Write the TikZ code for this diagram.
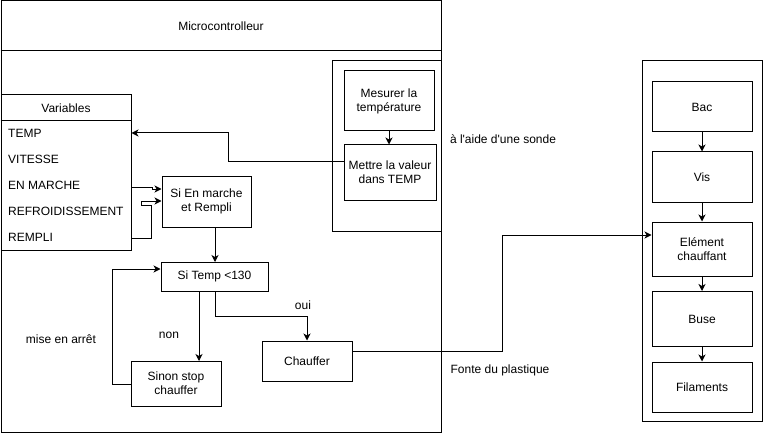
\documentclass[tikz,border=0pt]{standalone}
\usepackage{fontspec}
\setmainfont{Liberation Sans}[Ligatures=TeXOff]
\usetikzlibrary{arrows.meta}
\begin{document}
\begin{tikzpicture}[x=1pt,y=-1pt,
  every node/.style={font=\fontsize{12}{14}\selectfont, inner sep=0pt},
  box/.style={draw, line width=1pt, rectangle, align=center},
  lbl/.style={anchor=center},
  item/.style={anchor=west},
  ln/.style={line width=1pt},
  arr/.style={line width=1pt, -{Stealth[length=7pt,width=7pt,inset=2pt]}}]
\useasboundingbox (0,0) rectangle (763,433);
% microcontroller frame
\node[box, minimum width=440pt, minimum height=431pt] (mc) at (221,216.5) {};
\draw[ln] (mc.west |- 0,51) -- (mc.east |- 0,51);
\node[lbl] (mctitle) at (221,26) {Microcontrolleur};
% variables
\node[box, minimum width=130pt, minimum height=155pt] (var) at (66,172.5) {};
\draw[ln] (var.west |- 0,121) -- (var.east |- 0,121);
\node[lbl] (vartitle) at (66,108) {Variables};
\node[item] (temp) at (8,133) {TEMP};
\node[item] (vit) at (8,159) {VITESSE};
\node[item] (enm) at (8,185) {EN MARCHE};
\node[item] (refr) at (8,211) {REFROIDISSEMENT};
\node[item] (rempli) at (8,237) {REMPLI};
% sensor group
\node[box, minimum width=109pt, minimum height=170pt] (sens) at (386.5,146) {};
\node[box, minimum width=90pt, minimum height=60pt] (mes) at (389,101) {Mesurer la\\température};
\node[box, minimum width=92pt, minimum height=55pt] (met) at (390,172.5) {Mettre la valeur\\dans TEMP};
\node[lbl] (sonde) at (503,139) {à l'aide d'une sonde};
% logic
\node[box, minimum width=89pt, minimum height=51pt] (sim) at (206.5,201.5) {Si En marche\\et Rempli};
\node[box, minimum width=107pt, minimum height=29pt] (st) at (214.5,276.5) {Si Temp <130};
\node[box, minimum width=90pt, minimum height=45pt] (sinon) at (176,383.5) {Sinon stop\\chauffer};
\node[box, minimum width=90pt, minimum height=40pt] (chauf) at (307,361) {Chauffer};
\node[lbl] (non) at (169,335) {non};
\node[lbl] (oui) at (303,305) {oui};
\node[lbl] (arret) at (61,339) {mise en arrêt};
\node[lbl] (fonte) at (500,370) {Fonte du plastique};
% extruder group
\node[box, minimum width=120pt, minimum height=360pt] (ext) at (702,241) {};
\node[box, minimum width=100pt, minimum height=50pt] (bac) at (702,107) {Bac};
\node[box, minimum width=100pt, minimum height=50pt] (vis) at (702,177) {Vis};
\node[box, minimum width=100pt, minimum height=54pt] (elem) at (702,249) {Elément\\chauffant};
\node[box, minimum width=100pt, minimum height=55pt] (buse) at (702,319) {Buse};
\node[box, minimum width=100pt, minimum height=50pt] (fil) at (702,387) {Filaments};
% connectors
\draw[arr] (mes.south) -- (mes.south |- met.north);
\draw[arr] (met.west |- 0,162) -- (228,162) |- (var.east |- 0,133);
\draw[arr] (var.east |- 0,187) -- (152,187) -- (152,189) -- (sim.west |- 0,189);
\draw[arr] (var.east |- 0,238) -- (151,238) -- (151,205) -- (141,205) -- (141,201) -- (sim.west |- 0,201);
\draw[arr] (215,227) -- (215,262);
\draw[arr] (199,291) -- (199,361);
\draw[arr] (215,291) -- (215,316) -| (chauf.north);
\draw[arr] (sinon.west |- 0,384) -- (112,384) |- (st.west |- 0,269);
\draw[arr] (chauf.east |- 0,351) -- (502,351) |- (elem.west |- 0,235);
\draw[arr] (bac.south) -- (vis.north);
\draw[arr] (vis.south) -- (elem.north);
\draw[arr] (elem.south) -- (buse.north);
\draw[arr] (buse.south) -- (fil.north);
\end{tikzpicture}
\end{document}
